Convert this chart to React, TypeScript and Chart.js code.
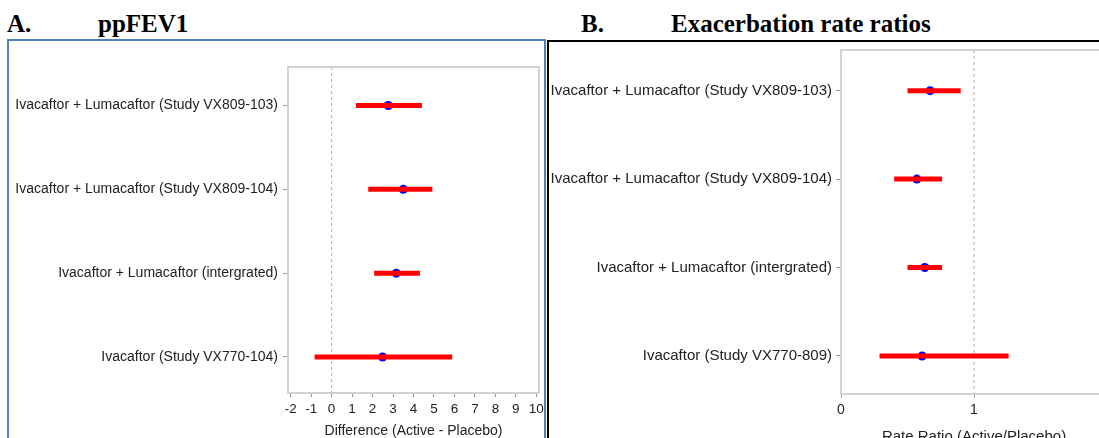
import React, { useEffect, useRef } from "react";
import { Chart, registerables } from "chart.js";

Chart.register(...registerables);

// ---- Panel A: ppFEV1 difference (Active - Placebo) ----
const fevStudies = [
  "Ivacaftor + Lumacaftor (Study VX809-103)",
  "Ivacaftor + Lumacaftor (Study VX809-104)",
  "Ivacaftor + Lumacaftor (intergrated)",
  "Ivacaftor (Study VX770-104)",
];
const fevEstimate = [2.77, 3.5, 3.16, 2.49];
const fevLower = [1.19, 1.79, 2.08, -0.83];
const fevUpper = [4.41, 4.92, 4.31, 5.89];
const fevTicks = [-2, -1, 0, 1, 2, 3, 4, 5, 6, 7, 8, 9, 10];

// ---- Panel B: exacerbation rate ratios (Active/Placebo) ----
const rateStudies = [
  "Ivacaftor + Lumacaftor (Study VX809-103)",
  "Ivacaftor + Lumacaftor (Study VX809-104)",
  "Ivacaftor + Lumacaftor (intergrated)",
  "Ivacaftor (Study VX770-809)",
];
const rateEstimate = [0.67, 0.57, 0.63, 0.61];
const rateLower = [0.5, 0.4, 0.5, 0.29];
const rateUpper = [0.9, 0.76, 0.76, 1.26];
const rateTicks = [0, 1, 2];

const rowPositions = [1, 2, 3, 4];
const ROW_MIN = 0.54;
const ROW_MAX = 4.43;

const SANS = '"Liberation Sans", Arial, sans-serif';
const SERIF = '"Liberation Serif", "Times New Roman", serif';

type PanelSpec = {
  studies: string[];
  estimate: number[];
  lower: number[];
  upper: number[];
  xTicks: number[];
  xMin: number;
  xMax: number;
  refValue: number;
  xTitle: string;
  width: number;
  height: number;
  padTop: number;
  padRight: number;
  yAxisWidth: number;
  xAxisHeight: number;
  labelSize: number;
  tickSize: number;
  titleSize: number;
  yPad: number;
};

// light grey box around the plotting area
const plotFrame = {
  id: "plotFrame",
  beforeDatasetsDraw(chart: any) {
    const { ctx, chartArea: a } = chart;
    ctx.save();
    ctx.strokeStyle = "#d2d2d2";
    ctx.lineWidth = 2;
    ctx.strokeRect(
      Math.round(a.left),
      Math.round(a.top),
      Math.round(a.right) - Math.round(a.left),
      Math.round(a.bottom) - Math.round(a.top)
    );
    ctx.restore();
  },
};

function buildConfig(spec: PanelSpec): any {
  const intervals = spec.lower.map((lo, i) => ({
    data: [
      { x: lo, y: rowPositions[i] },
      { x: spec.upper[i], y: rowPositions[i] },
    ],
    showLine: true,
    borderColor: "#ff0000",
    borderWidth: 5,
    borderCapStyle: "butt",
    pointRadius: 0,
    order: 0,
  }));
  const estimates = {
    data: spec.estimate.map((v, i) => ({ x: v, y: rowPositions[i] })),
    pointRadius: 4.5,
    pointBackgroundColor: "#0000ff",
    pointBorderColor: "#0000ff",
    pointBorderWidth: 0,
    showLine: false,
    order: 1,
  };
  const reference = {
    data: [
      { x: spec.refValue, y: ROW_MIN },
      { x: spec.refValue, y: ROW_MAX },
    ],
    showLine: true,
    borderColor: "#b4b4b4",
    borderWidth: 1,
    borderDash: [3, 3],
    pointRadius: 0,
    order: 2,
  };

  return {
    type: "scatter",
    data: { datasets: [reference, estimates, ...intervals] },
    plugins: [plotFrame],
    options: {
      responsive: false,
      animation: false,
      events: [],
      layout: {
        padding: { top: spec.padTop, right: spec.padRight, left: 0, bottom: 0 },
      },
      plugins: {
        legend: { display: false },
        tooltip: { enabled: false },
      },
      scales: {
        x: {
          type: "linear",
          min: spec.xMin,
          max: spec.xMax,
          afterBuildTicks: (s: any) => {
            s.ticks = spec.xTicks.map((v) => ({ value: v }));
          },
          afterFit: (s: any) => {
            s.height = spec.xAxisHeight;
            s.paddingLeft = 0;
            s.paddingRight = 0;
          },
          border: { display: false },
          grid: {
            drawOnChartArea: false,
            drawTicks: true,
            tickLength: 4,
            color: "#9a9a9a",
          },
          ticks: {
            autoSkip: false,
            maxRotation: 0,
            padding: 4,
            color: "#222222",
            font: { family: SANS, size: spec.tickSize },
          },
          title: {
            display: true,
            text: spec.xTitle,
            color: "#222222",
            padding: { top: 4, bottom: 4 },
            font: { family: SANS, size: spec.titleSize },
          },
        },
        y: {
          type: "linear",
          min: ROW_MIN,
          max: ROW_MAX,
          reverse: true,
          afterBuildTicks: (s: any) => {
            s.ticks = rowPositions.map((v) => ({ value: v }));
          },
          afterFit: (s: any) => {
            s.width = spec.yAxisWidth;
            s.paddingTop = 0;
            s.paddingBottom = 0;
          },
          border: { display: false },
          grid: {
            drawOnChartArea: false,
            drawTicks: true,
            tickLength: 5,
            color: "#9a9a9a",
          },
          ticks: {
            autoSkip: false,
            padding: spec.yPad,
            color: "#222222",
            font: { family: SANS, size: spec.labelSize },
            callback: (v: number) => spec.studies[Math.round(v) - 1] ?? "",
          },
        },
      },
    },
  };
}

function ForestPanel({
  spec,
  left,
  top,
}: {
  spec: PanelSpec;
  left: number;
  top: number;
}) {
  const ref = useRef<HTMLCanvasElement | null>(null);
  useEffect(() => {
    if (!ref.current) return;
    const chart = new Chart(ref.current, buildConfig(spec));
    return () => chart.destroy();
  }, [spec]);
  return (
    <canvas
      ref={ref}
      width={spec.width}
      height={spec.height}
      style={{
        position: "absolute",
        left,
        top,
        width: spec.width,
        height: spec.height,
      }}
    />
  );
}

const fevSpec: PanelSpec = {
  studies: fevStudies,
  estimate: fevEstimate,
  lower: fevLower,
  upper: fevUpper,
  xTicks: fevTicks,
  xMin: -2.13,
  xMax: 10.13,
  refValue: 0,
  xTitle: "Difference (Active - Placebo)",
  width: 536,
  height: 403,
  padTop: 26,
  padRight: 6,
  yAxisWidth: 279,
  xAxisHeight: 51,
  labelSize: 14,
  tickSize: 13.5,
  titleSize: 14,
  yPad: 5,
};

const rateSpec: PanelSpec = {
  studies: rateStudies,
  estimate: rateEstimate,
  lower: rateLower,
  upper: rateUpper,
  xTicks: rateTicks,
  xMin: 0,
  xMax: 2,
  refValue: 1,
  xTitle: "Rate Ratio (Active/Placebo)",
  width: 570,
  height: 408,
  padTop: 8,
  padRight: 12,
  yAxisWidth: 292,
  xAxisHeight: 56,
  labelSize: 15,
  tickSize: 14,
  titleSize: 15,
  yPad: 4,
};

const headingStyle: React.CSSProperties = {
  position: "absolute",
  top: 11,
  font: `700 25px ${SERIF}`,
  lineHeight: "25px",
  color: "#000",
  whiteSpace: "nowrap",
};

export default function App() {
  return (
    <div
      style={{
        position: "absolute",
        left: 0,
        top: 0,
        width: 1099,
        height: 438,
        overflow: "hidden",
        background: "#ffffff",
      }}
    >
      <div style={{ ...headingStyle, left: 7 }}>A.</div>
      <div style={{ ...headingStyle, left: 98 }}>ppFEV1</div>
      <div style={{ ...headingStyle, left: 581 }}>B.</div>
      <div style={{ ...headingStyle, left: 671 }}>Exacerbation rate ratios</div>

      <div
        style={{
          position: "absolute",
          left: 7,
          top: 39,
          width: 539,
          height: 420,
          border: "2px solid #4f81bd",
          boxSizing: "border-box",
        }}
      />
      <div
        style={{
          position: "absolute",
          left: 547,
          top: 40,
          width: 600,
          height: 420,
          border: "2px solid #000000",
          boxSizing: "border-box",
        }}
      />

      <ForestPanel spec={fevSpec} left={9} top={41} />
      <ForestPanel spec={rateSpec} left={549} top={42} />
    </div>
  );
}
